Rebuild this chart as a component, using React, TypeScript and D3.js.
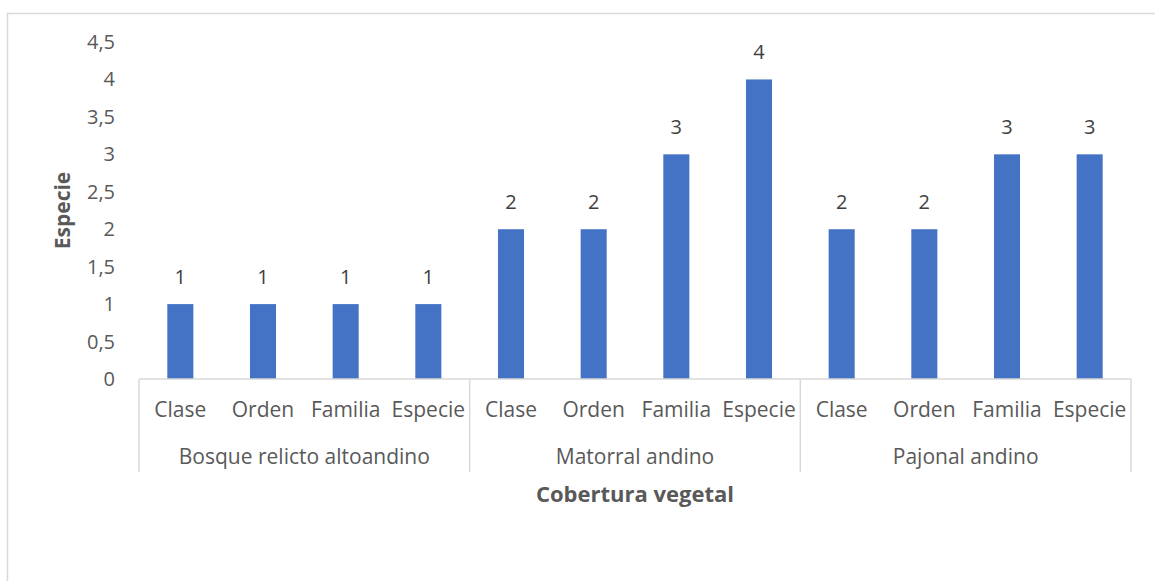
import * as d3 from "d3";

const groups = ["Bosque relicto altoandino", "Matorral andino", "Pajonal andino"];
const levels = ["Clase", "Orden", "Familia", "Especie"];
const values = [1, 1, 1, 1, 2, 2, 3, 4, 2, 2, 3, 3];
const yTicks = [0, 0.5, 1, 1.5, 2, 2.5, 3, 3.5, 4, 4.5];

const width = 1155;
const height = 581;
const margin = { top: 42, right: 24, bottom: 202, left: 139 };
const font = "'Open Sans', sans-serif";
const grey = "#595959";
const lineColor = "#d9d9d9";

const rows = groups.flatMap((g, gi) =>
  levels.map((l, li) => ({ key: `${gi}-${li}`, group: g, level: l, value: values[gi * levels.length + li] })),
);

export default function App() {
  const x = d3
    .scaleBand()
    .domain(rows.map((d) => d.key))
    .range([margin.left, width - margin.right])
    .paddingInner(0.685)
    .paddingOuter(0.3425);

  const y = d3
    .scaleLinear()
    .domain([0, 4.5])
    .range([height - margin.bottom, margin.top]);

  const step = x.step();
  const y0 = y(0);
  const fmt = (v: number) => String(v).replace(".", ",");

  return (
    <svg width={width} height={height} style={{ position: "absolute", left: 0, top: 0 }} fontFamily={font}>
      <rect x={0} y={0} width={width} height={height} fill="#fff" />
      <rect x={7.5} y={13.5} width={1200} height={700} fill="none" stroke={lineColor} strokeWidth={1.5} />

      {yTicks.map((t) => (
        <text key={t} x={115} y={y(t)} dy="0.35em" textAnchor="end" fontSize={20} fill={grey}>
          {fmt(t)}
        </text>
      ))}

      {rows.map((d) => (
        <g key={d.key}>
          <rect x={x(d.key)} y={y(d.value)} width={x.bandwidth()} height={y0 - y(d.value)} fill="#4472C4" />
          <text
            x={(x(d.key) ?? 0) + x.bandwidth() / 2}
            y={y(d.value) - 20}
            textAnchor="middle"
            fontSize={20}
            fill="#404040"
          >
            {d.value}
          </text>
          <text
            x={(x(d.key) ?? 0) + x.bandwidth() / 2}
            y={410}
            dy="0.35em"
            textAnchor="middle"
            fontSize={21}
            fill={grey}
          >
            {d.level}
          </text>
        </g>
      ))}

      <line x1={margin.left} x2={width - margin.right} y1={y0} y2={y0} stroke={lineColor} strokeWidth={1.5} />
      {d3.range(groups.length + 1).map((i) => {
        const xx = margin.left + i * levels.length * step;
        return <line key={i} x1={xx} x2={xx} y1={y0} y2={472} stroke={lineColor} strokeWidth={1.5} />;
      })}
      {groups.map((g, i) => (
        <text
          key={g}
          x={margin.left + (i + 0.5) * levels.length * step}
          y={457}
          dy="0.35em"
          textAnchor="middle"
          fontSize={21}
          fill={grey}
        >
          {g}
        </text>
      ))}

      <text
        x={(margin.left + width - margin.right) / 2}
        y={494}
        dy="0.35em"
        textAnchor="middle"
        fontSize={22}
        fontWeight="bold"
        fill={grey}
      >
        Cobertura vegetal
      </text>
      <text
        transform={`translate(63,${(margin.top + y0) / 2}) rotate(-90)`}
        dy="0.35em"
        textAnchor="middle"
        fontSize={21}
        fontWeight="bold"
        fill={grey}
      >
        Especie
      </text>
    </svg>
  );
}
